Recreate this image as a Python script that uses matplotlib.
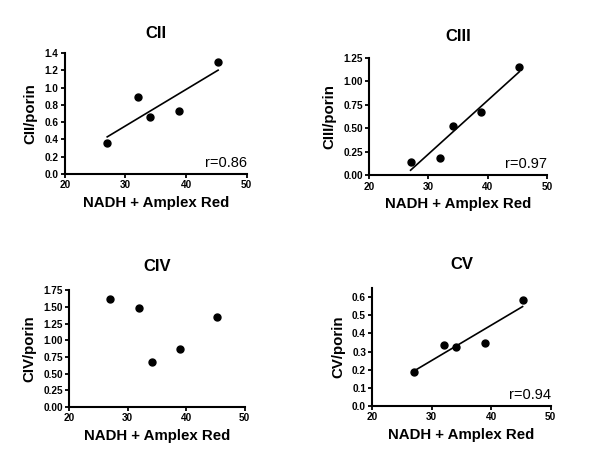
import numpy as np
import matplotlib.pyplot as plt
from matplotlib import font_manager

# activity from NADH + Amplex Red assay (same samples for every complex)
nadh_amplex = [27.0, 32.0, 34.1, 38.9, 45.3]

cii = [0.36, 0.89, 0.66, 0.73, 1.29]
ciii = [0.146, 0.188, 0.526, 0.675, 1.158]
civ = [1.62, 1.48, 0.67, 0.875, 1.355]
cv = [0.186, 0.339, 0.327, 0.349, 0.585]

titles = ["CII", "CIII", "CIV", "CV"]
ylabels = ["CII/porin", "CIII/porin", "CIV/porin", "CV/porin"]
r_labels = ["r=0.86", "r=0.97", None, "r=0.94"]
yticks = [
    [0.0, 0.2, 0.4, 0.6, 0.8, 1.0, 1.2, 1.4],
    [0.0, 0.25, 0.5, 0.75, 1.0, 1.25],
    [0.0, 0.25, 0.5, 0.75, 1.0, 1.25, 1.5, 1.75],
    [0.0, 0.1, 0.2, 0.3, 0.4, 0.5, 0.6],
]
ytick_fmt = ["%.1f", "%.2f", "%.2f", "%.1f"]
ytops = [1.4, 1.25, 1.75, 0.65]
xticks = [20, 30, 40, 50]

names = {f.name for f in font_manager.fontManager.ttflist}
narrow = "Liberation Sans Narrow" if "Liberation Sans Narrow" in names else "Liberation Sans"

plt.rcParams['font.family'] = ['Liberation Sans', 'DejaVu Sans']

fig = plt.figure(figsize=(6, 4.62), dpi=100)
boxes = [
    [0.108, 0.6234, 0.303, 0.262],
    [0.615, 0.6206, 0.297, 0.254],
    [0.115, 0.119, 0.293, 0.2526],
    [0.6205, 0.121, 0.297, 0.2554],
]
title_pads = [11, 12.5, 14, 14]
series = [cii, ciii, civ, cv]

for i in range(4):
    ax = fig.add_axes(boxes[i])
    x = np.array(nadh_amplex)
    y = np.array(series[i])
    ax.plot(x, y, 'o', color='black', markersize=5.0, zorder=3, clip_on=False)
    if r_labels[i] is not None:
        slope, icpt = np.polyfit(x, y, 1)
        xs = np.array([x.min(), x.max()])
        ax.plot(xs, slope * xs + icpt, color='black', lw=1.2)
        ax.text(1.0, 0.035, r_labels[i], transform=ax.transAxes, ha='right', va='bottom',
                fontsize=10.5, family=narrow)
    ax.set_xlim(20, 50)
    ax.set_ylim(0, ytops[i])
    ax.set_xticks(xticks)
    ax.set_yticks(yticks[i])
    ax.set_yticklabels([ytick_fmt[i] % v for v in yticks[i]])
    for lab in ax.get_xticklabels() + ax.get_yticklabels():
        lab.set_fontweight('bold')
        lab.set_fontsize(7.2)
    ax.tick_params(direction='out', length=3, width=1.3, pad=1.5)
    ax.spines['top'].set_visible(False)
    ax.spines['right'].set_visible(False)
    ax.spines['left'].set_linewidth(1.5)
    ax.spines['bottom'].set_linewidth(1.5)
    ax.set_title(titles[i], fontsize=12, fontweight='bold', family=narrow, pad=title_pads[i])
    ax.set_xlabel("NADH + Amplex Red", fontsize=10.8, fontweight='bold', family=narrow, labelpad=4)
    ax.set_ylabel(ylabels[i], fontsize=10.8, fontweight='bold', family=narrow, labelpad=5)

fig.savefig("out.png", dpi=100)
